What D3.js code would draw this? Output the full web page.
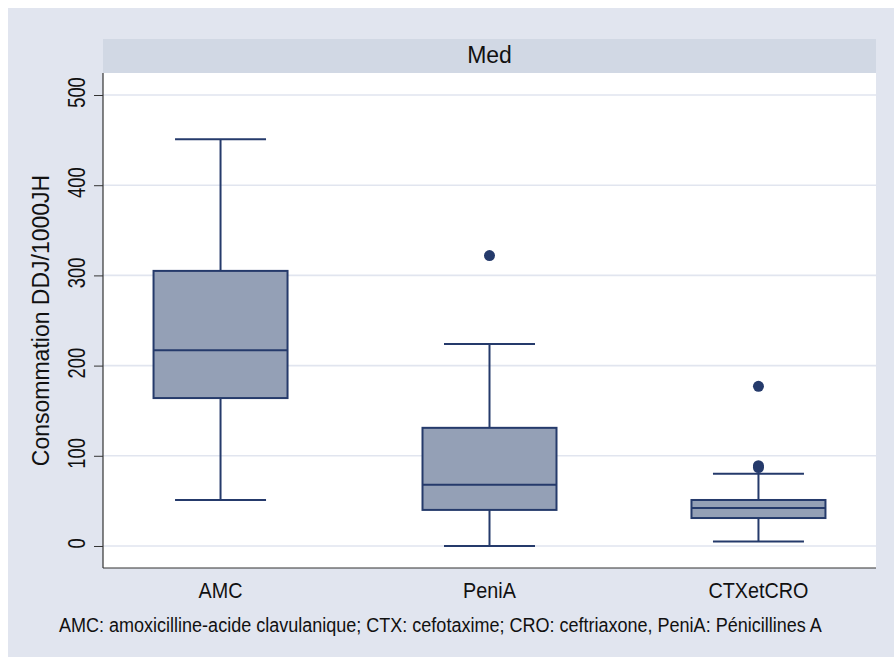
<!DOCTYPE html>
<html><head><meta charset="utf-8">
<script src="https://cdn.jsdelivr.net/npm/d3@7"></script>
<style>body{margin:0;background:#fff}svg{display:block}text{font-family:"Liberation Sans",Arial,sans-serif;fill:#111}</style>
</head><body><div id="c"></div>
<script>
const categories = ["AMC", "PeniA", "CTXetCRO"];
const lowerWhisker = [51, 0, 5];
const q1 = [164, 40, 31];
const median = [217, 68, 42];
const q3 = [305, 131, 51];
const upperWhisker = [451, 224, 80];
const outliers = [[], [322], [177, 89, 87]];
const yTicks = [0, 100, 200, 300, 400, 500];
const panelTitle = "Med";
const yTitle = "Consommation DDJ/1000JH";
const note = "AMC: amoxicilline-acide clavulanique; CTX: cefotaxime; CRO: ceftriaxone, PeniA: Pénicillines A";

const W = 894, H = 657;
const svg = d3.select("#c").append("svg").attr("width", W).attr("height", H);
const L = 103, R = 876, T = 73, B = 568;
svg.append("rect").attr("x", 8).attr("y", 8).attr("width", W - 8).attr("height", H - 8).attr("fill", "#e1e5ef");
svg.append("rect").attr("x", L).attr("y", 39).attr("width", R - L).attr("height", T - 39).attr("fill", "#d1d8e4");
svg.append("text").attr("x", (L + R) / 2).attr("y", 62.5).attr("text-anchor", "middle").attr("font-size", 23).text(panelTitle);
svg.append("rect").attr("x", L).attr("y", T).attr("width", R - L).attr("height", B - T).attr("fill", "#fff");

const x = d3.scalePoint().domain(categories).range([L, R]).padding(0.437);
const y = d3.scaleLinear().domain([-24.4, 524.4]).range([B, T]);

svg.append("g").selectAll("line").data(yTicks).join("line")
  .attr("x1", L).attr("x2", R).attr("y1", d => y(d)).attr("y2", d => y(d))
  .attr("stroke", "#e1e5ef").attr("stroke-width", 1.6);

const ya = svg.append("g").attr("transform", `translate(${L},0)`)
  .call(d3.axisLeft(y).tickValues(yTicks).tickSize(9).tickPadding(0).tickFormat(d3.format("d")));
ya.select(".domain").remove();
ya.selectAll(".tick line").attr("stroke", "#333").attr("stroke-width", 1);
ya.selectAll(".tick text").attr("transform", "translate(-18,-3) rotate(-90) scale(0.8,1)")
  .attr("text-anchor", "middle").attr("dy", "0").attr("x", 0).attr("y", 0)
  .attr("font-size", 23).style("font-family", '"Liberation Sans",Arial,sans-serif').attr("fill", "#111");
svg.append("line").attr("x1", L).attr("x2", L).attr("y1", T).attr("y2", B).attr("stroke", "#333").attr("stroke-width", 1.2);
svg.append("line").attr("x1", L).attr("x2", R).attr("y1", B).attr("y2", B).attr("stroke", "#333").attr("stroke-width", 1.2);

svg.append("text").attr("transform", `translate(49,${(T + B) / 2 + 0}) rotate(-90)`)
  .attr("text-anchor", "middle").attr("font-size", 23).text(yTitle);

svg.append("g").selectAll("text").data(categories).join("text")
  .attr("transform", d => `translate(${x(d)},598) scale(0.9,1)`)
  .attr("text-anchor", "middle").attr("font-size", 22).text(d => d);

svg.append("text").attr("transform", "translate(59,632) scale(0.924,1)").attr("font-size", 19.5).text(note);

const stroke = "#253a6b", fill = "#94a0b6";
const bw = 134, cw = 91;
const g = svg.append("g");
categories.forEach((c, i) => {
  const cx = x(c);
  g.append("line").attr("x1", cx).attr("x2", cx).attr("y1", y(upperWhisker[i])).attr("y2", y(q3[i])).attr("stroke", stroke).attr("stroke-width", 2);
  g.append("line").attr("x1", cx).attr("x2", cx).attr("y1", y(q1[i])).attr("y2", y(lowerWhisker[i])).attr("stroke", stroke).attr("stroke-width", 2);
  g.append("line").attr("x1", cx - cw / 2).attr("x2", cx + cw / 2).attr("y1", y(upperWhisker[i])).attr("y2", y(upperWhisker[i])).attr("stroke", stroke).attr("stroke-width", 2);
  g.append("line").attr("x1", cx - cw / 2).attr("x2", cx + cw / 2).attr("y1", y(lowerWhisker[i])).attr("y2", y(lowerWhisker[i])).attr("stroke", stroke).attr("stroke-width", 2);
  g.append("rect").attr("x", cx - bw / 2).attr("width", bw).attr("y", y(q3[i])).attr("height", y(q1[i]) - y(q3[i]))
    .attr("fill", fill).attr("stroke", stroke).attr("stroke-width", 2);
  g.append("line").attr("x1", cx - bw / 2).attr("x2", cx + bw / 2).attr("y1", y(median[i])).attr("y2", y(median[i])).attr("stroke", stroke).attr("stroke-width", 2);
  g.selectAll(null).data(outliers[i]).join("circle").attr("cx", cx).attr("cy", d => y(d)).attr("r", 5.5).attr("fill", stroke);
});
</script></body></html>
